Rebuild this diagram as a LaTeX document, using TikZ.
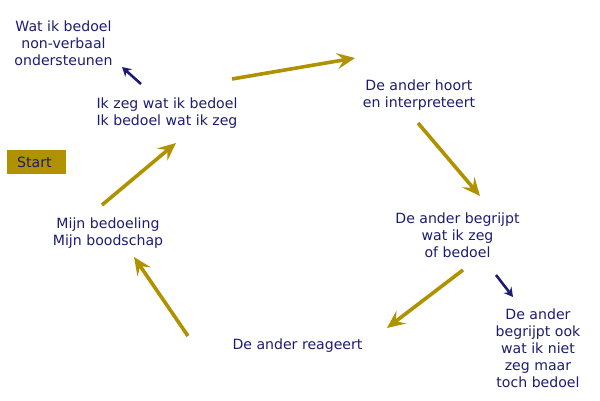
\documentclass[tikz,border=0pt]{standalone}
\usepackage{fontspec}
\setmainfont{DejaVu Sans}
\usepackage{tikz}
\usetikzlibrary{positioning,calc,arrows.meta}
\definecolor{navytxt}{RGB}{28,28,112}
\definecolor{goldarr}{RGB}{176,146,0}

\begin{document}
\begin{tikzpicture}[x=1pt,y=-1pt,join=round]
		\tikzstyle{step_txt}=[align=center,text=navytxt,font=\fontsize{14.1}{17}\selectfont,inner sep=0];
		\tikzstyle{gold_arrow}=[draw=goldarr,line width=3.6pt,-{Stealth[length=18pt,width=16pt,inset=7pt]}];
		\tikzstyle{side_arrow}=[draw=navytxt,line width=2.6pt,-{Stealth[length=9pt,width=10pt,inset=3pt]}];
		\tikzstyle{start_box}=[fill=goldarr,text=navytxt,font=\fontsize{14.1}{17}\selectfont,align=left,text width=39pt,inner xsep=10pt,inner ysep=0,minimum height=24pt];
		
		\useasboundingbox (0,0) rectangle (600,400);
		
		\node[step_txt] (ikzeg) at (167,113) {Ik zeg wat ik bedoel\\Ik bedoel wat ik zeg};
		\node[step_txt] (nonverbaal) at (63.5,43) {Wat ik bedoel\\non-verbaal\\ondersteunen};
		\node[step_txt] (hoort) at (419,95) {De ander hoort\\en interpreteert};
		\node[step_txt] (begrijpt) at (457.5,235) {De ander begrijpt\\wat ik zeg\\of bedoel};
		\node[step_txt] (ookniet) at (538,348) {De ander\\begrijpt ook\\wat ik niet\\zeg maar\\toch bedoel};
		\node[step_txt] (reageert) at (297.5,346) {De ander reageert};
		\node[step_txt] (bedoeling) at (108,233) {Mijn bedoeling\\Mijn boodschap};
		\node[start_box,anchor=north west] (start) at (7,150) {Start};
		
		\coordinate (a1_from) at (102,205);  \coordinate (a1_to) at (176,143);
		\coordinate (a2_from) at (232,79);   \coordinate (a2_to) at (355,58);
		\coordinate (a3_from) at (418,123);  \coordinate (a3_to) at (480,196);
		\coordinate (a4_from) at (463,270);  \coordinate (a4_to) at (387,328);
		\coordinate (a5_from) at (188,336);  \coordinate (a5_to) at (134,257);
		\coordinate (s1_from) at (141,84);   \coordinate (s1_to) at (122,67);
		\coordinate (s2_from) at (496,275);  \coordinate (s2_to) at (513,297);
		
		\draw[gold_arrow] (a1_from) -- (a1_to);
		\draw[gold_arrow] (a2_from) -- (a2_to);
		\draw[gold_arrow] (a3_from) -- (a3_to);
		\draw[gold_arrow] (a4_from) -- (a4_to);
		\draw[gold_arrow] (a5_from) -- (a5_to);
		
		\draw[side_arrow] (s1_from) -- (s1_to);
		\draw[side_arrow] (s2_from) -- (s2_to);
	\end{tikzpicture}
\end{document}
